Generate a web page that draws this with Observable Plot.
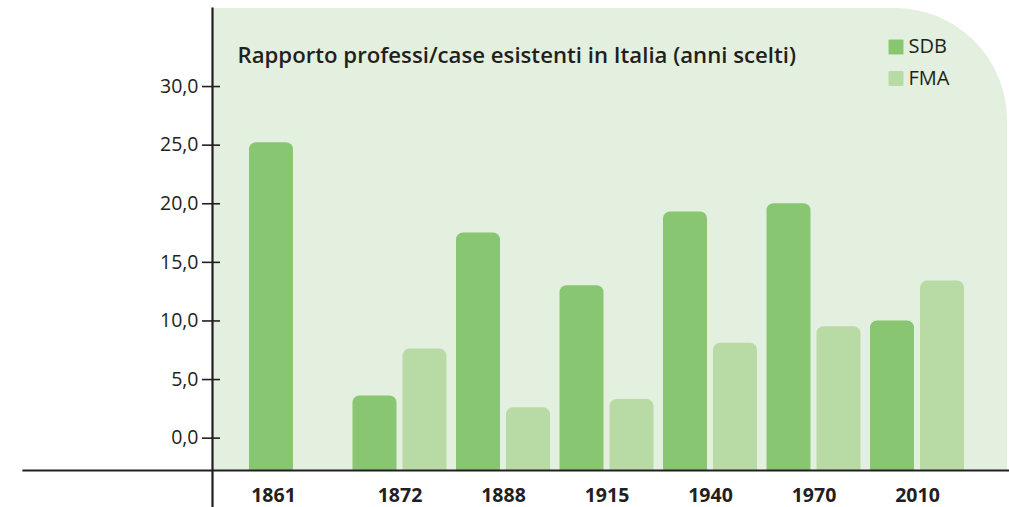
<!DOCTYPE html>
<html>
<head>
<meta charset="utf-8">
<script src="https://cdn.jsdelivr.net/npm/d3@7"></script>
<script src="https://cdn.jsdelivr.net/npm/@observablehq/plot@0.6"></script>
<style>
  html, body { margin: 0; padding: 0; background: #ffffff; }
  #chart { width: 1009px; height: 507px; }
</style>
</head>
<body>
<div id="chart"></div>
<script>
// ---- data ----
const years = ["1861", "1872", "1888", "1915", "1940", "1970", "2010"];
const sdbValues = [25.2, 3.6, 17.5, 13.0, 19.3, 20.0, 10.0];
const fmaValues = [null, 7.6, 2.6, 3.3, 8.1, 9.5, 13.4];
const seriesNames = ["SDB", "FMA"];
const yTicks = [0, 5, 10, 15, 20, 25, 30];
const title = "Rapporto professi/case esistenti in Italia (anni scelti)";

// ---- style ----
const colors = { SDB: "#88c672", FMA: "#b8dba5" };
const panelColor = "#e3efdf";
const ink = "#231f20";
const yMin = -2.76, yMax = 36.66;

const sdbRows = years.map((year, i) => ({ year, value: sdbValues[i] }));
const fmaRows = years.map((year, i) => ({ year, value: fmaValues[i] })).filter(d => d.value != null);
const singleYears = years.filter((y, i) => fmaValues[i] == null);
const pairYears = years.filter((y, i) => fmaValues[i] != null);

const fmt = d => d.toFixed(1).replace(".", ",");

// panel with rounded top-right corner, drawn from the plot dimensions
function panel(index, scales, values, dim) {
  const x0 = dim.marginLeft, x1 = dim.width - dim.marginRight;
  const y0 = dim.marginTop, y1 = dim.height - dim.marginBottom;
  const r = 112;
  const p = d3.path();
  p.moveTo(x0, y0);
  p.lineTo(x1 - r, y0);
  p.arcTo(x1, y0, x1, y0 + r, r);
  p.lineTo(x1, y1);
  p.lineTo(x0, y1);
  p.closePath();
  return d3.create("svg:path").attr("d", p.toString()).attr("fill", panelColor).node();
}

const chart = Plot.plot({
  width: 1009,
  height: 507,
  marginLeft: 212,
  marginRight: 2,
  marginTop: 8,
  marginBottom: 37,
  style: { fontFamily: "'Open Sans', sans-serif", fontSize: "18px", color: ink, background: "transparent" },
  x: { domain: years, paddingInner: 0.092, paddingOuter: 0, round: false, insetLeft: 37, insetRight: 43, axis: null },
  y: { domain: [yMin, yMax], axis: null },
  marks: [
    panel,
    Plot.barY(sdbRows, { x: "year", y1: yMin - 3, y2: "value", fill: colors.SDB, insetRight: 50, rx: 7, clip: true }),
    Plot.barY(fmaRows, { x: "year", y1: yMin - 3, y2: "value", fill: colors.FMA, insetLeft: 50, rx: 7, clip: true }),
    // y axis ticks (crossing the axis line) & labels
    Plot.axisY({ ticks: yTicks, label: null, tickSize: 18, dx: 8, tickFormat: () => "", stroke: ink, strokeWidth: 1.6 }),
    Plot.axisY({ ticks: yTicks, label: null, tickSize: 0, tickPadding: 14, tickFormat: fmt, fill: ink, fontSize: 19.5 }),
    // axis lines
    Plot.frame({ anchor: "left", insetBottom: -40, stroke: ink, strokeWidth: 2.2 }),
    Plot.frame({ anchor: "bottom", insetLeft: -189, insetRight: -4, stroke: ink, strokeWidth: 2.2 }),
    // x labels
    Plot.text(pairYears, { x: d => d, frameAnchor: "bottom", lineAnchor: "middle", dy: 25, fontWeight: 700, fontSize: 19.5, fill: ink }),
    Plot.text(singleYears, { x: d => d, frameAnchor: "bottom", lineAnchor: "middle", dy: 25, dx: -23, fontWeight: 700, fontSize: 19.5, fill: ink }),
    // title
    Plot.text([title], { frameAnchor: "top-left", lineAnchor: "middle", dx: 25, dy: 47, textAnchor: "start", fontWeight: 600, fontSize: 22.2, fill: ink }),
    // legend
    Plot.dot([seriesNames[0]], { frameAnchor: "top-right", dx: -111.5, dy: 38.5, symbol: "square", r: 8.4, fill: colors.SDB }),
    Plot.dot([seriesNames[1]], { frameAnchor: "top-right", dx: -111.5, dy: 70, symbol: "square", r: 8.4, fill: colors.FMA }),
    Plot.text([seriesNames[0]], { text: d => d, frameAnchor: "top-right", lineAnchor: "middle", dx: -99, dy: 38.5, textAnchor: "start", fontSize: 20, fill: ink }),
    Plot.text([seriesNames[1]], { text: d => d, frameAnchor: "top-right", lineAnchor: "middle", dx: -99, dy: 70, textAnchor: "start", fontSize: 20, fill: ink })
  ]
});
document.getElementById("chart").append(chart);
</script>
</body>
</html>
